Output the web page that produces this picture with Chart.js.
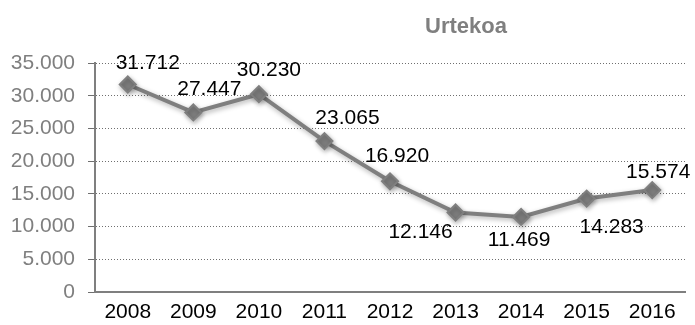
<!DOCTYPE html>
<html>
<head>
<meta charset="utf-8">
<script src="https://cdn.jsdelivr.net/npm/chart.js@4"></script>
<style>
html,body{margin:0;padding:0;background:#fff;}
#wrap{width:695px;height:325px;}
</style>
</head>
<body>
<div id="wrap"><canvas id="c" width="695" height="325"></canvas></div>
<script>
const titleText = 'Urtekoa';
const years = ['2008','2009','2010','2011','2012','2013','2014','2015','2016'];
const values = [31712, 27447, 30230, 23065, 16920, 12146, 11469, 14283, 15574];
const yTicks = [0, 5000, 10000, 15000, 20000, 25000, 30000, 35000];

function fmt(v){ return v.toString().replace(/\B(?=(\d{3})+(?!\d))/g, '.'); }

const FONT = '"Liberation Sans", Arial, sans-serif';
// label offsets relative to each point (dx, dy) in pixels
const labelOffsets = [[20,-21],[16,-23],[10,-24],[23,-23],[7,-25],[-35,20],[-2,23],[25,29],[6,-18]];

const dataLabelPlugin = {
  id: 'dlabels',
  afterDatasetsDraw(chart){
    const ctx = chart.ctx;
    const meta = chart.getDatasetMeta(0);
    ctx.save();
    ctx.font = '21px ' + FONT;
    ctx.fillStyle = '#000';
    ctx.textAlign = 'center';
    ctx.textBaseline = 'middle';
    meta.data.forEach((pt, i) => {
      const o = labelOffsets[i];
      ctx.fillText(fmt(values[i]), pt.x + o[0], pt.y + o[1]);
    });
    ctx.restore();
  }
};
const titlePlugin = {
  id: 'mytitle',
  afterDraw(chart){
    const ctx = chart.ctx;
    ctx.save();
    ctx.font = 'bold 22px ' + FONT;
    ctx.fillStyle = '#7f7f7f';
    ctx.textAlign = 'center';
    ctx.textBaseline = 'middle';
    ctx.fillText(titleText, 466, 27);
    ctx.restore();
  }
};
const shadowPlugin = {
  id: 'shadow',
  beforeDatasetsDraw(chart){
    chart.ctx.save();
    chart.ctx.shadowColor = 'rgba(0,0,0,0.3)';
    chart.ctx.shadowBlur = 5;
    chart.ctx.shadowOffsetX = 1;
    chart.ctx.shadowOffsetY = 2;
  },
  afterDatasetsDraw(chart){ chart.ctx.restore(); }
};

new Chart(document.getElementById('c'), {
  type: 'line',
  data: {
    labels: years,
    datasets: [{
      data: values,
      borderColor: '#7f7f7f',
      backgroundColor: '#7f7f7f',
      borderWidth: 4,
      pointStyle: 'rectRot',
      pointRadius: 8,
      pointBorderWidth: 2,
      pointHoverRadius: 8,
      pointBackgroundColor: '#7f7f7f',
      pointBorderColor: '#7f7f7f',
      tension: 0
    }]
  },
  options: {
    responsive: false,
    animation: false,
    events: [],
    layout: { padding: { top: 63, right: 10, left: 0, bottom: 0 } },
    plugins: { legend: { display: false }, tooltip: { enabled: false }, title: { display: false } },
    scales: {
      x: {
        offset: true,
        afterFit(axis){ axis.height = 33; },
        grid: { display: false, drawTicks: false },
        border: { display: true, color: '#7f7f7f', width: 2 },
        ticks: { color: '#000', font: { size: 21, family: FONT }, padding: 8, maxRotation: 0 }
      },
      y: {
        min: 0, max: 35000,
        afterBuildTicks(axis){ axis.ticks = yTicks.map(v => ({ value: v })); },
        afterFit(axis){ axis.width = 95; },
        grid: { color: '#6f6f6f', lineWidth: 1, tickLength: 7, tickColor: '#6f6f6f' },
        border: { display: true, color: '#7f7f7f', width: 2, dash: [1, 2] },
        ticks: { color: '#7f7f7f', font: { size: 21, family: FONT }, padding: 13, callback: v => fmt(v) }
      }
    }
  },
  plugins: [shadowPlugin, dataLabelPlugin, titlePlugin]
});
</script>
</body>
</html>
